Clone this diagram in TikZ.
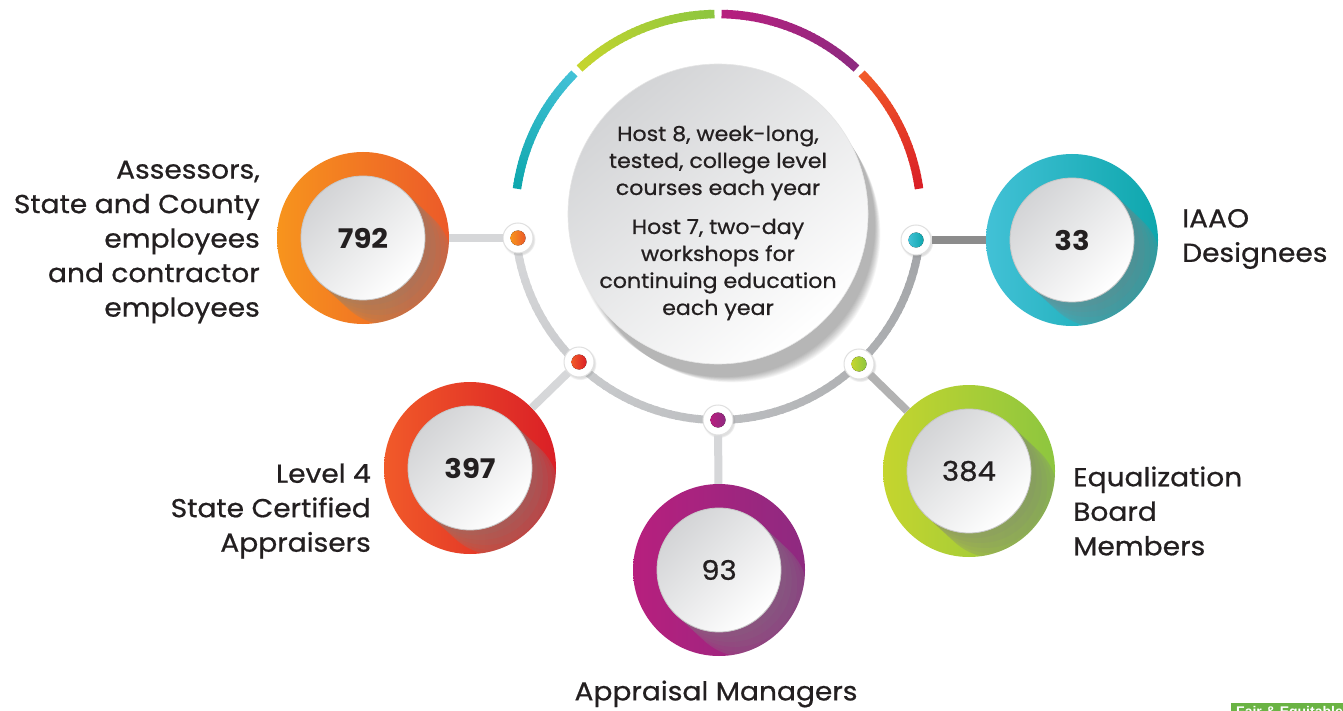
\documentclass[tikz,border=0pt]{standalone}
\usepackage{fontspec}
\setmainfont{Poppins}[FakeStretch=1.08, FakeBold=0.7, BoldFeatures={FakeBold=0}]
\newfontfamily\badgefont{Liberation Sans}
\usetikzlibrary{calc,shadows}
\definecolor{ringlight}{HTML}{D6D7D9}
\definecolor{ringdark}{HTML}{A2A4A7}
\definecolor{txt}{HTML}{231F20}
\definecolor{orA}{HTML}{F7941D}\definecolor{orB}{HTML}{EC5A29}
\definecolor{reA}{HTML}{F15A29}\definecolor{reB}{HTML}{DA1F26}
\definecolor{maA}{HTML}{B71F7E}\definecolor{maB}{HTML}{8E2A80}
\definecolor{grA}{HTML}{C5D52E}\definecolor{grB}{HTML}{8DC63F}
\definecolor{cyA}{HTML}{42C1D6}\definecolor{cyB}{HTML}{0EA7AD}
\definecolor{innergray}{HTML}{D3D4D6}
\definecolor{fairgreen}{HTML}{6AB344}
\newcommand\gradarc[6]{%
  \foreach \i in {0,...,29}{%
    \pgfmathsetmacro\sa{#3+(#4-#3)*\i/30}%
    \pgfmathsetmacro\ea{#3+(#4-#3)*min(\i+1.3,30)/30}%
    \pgfmathtruncatemacro\m{100-\i*100/29}%
    \draw[line width=8.5pt,color=#5!\m!#6] (#1) ++(-\sa:#2) arc[start angle=-\sa, end angle=-\ea, radius=#2];
  }}
\newcommand\bigcircle[6]{% name, x, y, colA, colB, number text
  \node[circle, inner sep=0pt, minimum size=172pt, left color=#4, right color=#5] (#1) at (#2,#3) {};
  \begin{scope}
    \clip (#1.center) circle[radius=86pt];
    \draw[line width=124pt, line cap=round, draw=black!50, draw opacity=0.28] (#1.center) -- ++(27,25);
    \foreach \f in {0.8,0.6,0.4,0.2}{%
      \draw[line width=124pt, line cap=round, draw=black!50, draw opacity=0.1] (#1.center) -- ++(27*\f,25*\f);}
  \end{scope}
  \node[numdisc] (#1n) at (#1.center) {#6};
}
\tikzset{
  numdisc/.style={circle, inner sep=0pt, minimum size=124pt, top color=innergray, bottom color=white, shading angle=45, draw=black!22, line width=0.8pt, text=txt, font=\fontsize{27}{30}\selectfont},
  dotnode/.style={circle, inner sep=0pt, minimum size=30pt, fill=white, draw=black!12, line width=1pt, circular drop shadow={shadow xshift=1pt, shadow yshift=-1.5pt, opacity=0.25}},
  conn/.style={line width=8pt},
  lbl/.style={text=txt, font=\fontsize{26}{34.5}\selectfont, inner sep=0pt},
}
\begin{document}
\begin{tikzpicture}[x=1pt,y=-1pt]
\useasboundingbox[fill=white] (0,0) rectangle (1343,711);
\coordinate (O) at (718,217);
% gray ring (lower part)
\foreach \a in {186,188,...,352}{%
  \pgfmathtruncatemacro\m{(\a-186)/1.68}%
  \draw[line width=8pt,color=ringdark!\m!ringlight] (O) ++(-\a:203) arc[start angle=-\a, end angle=-\a-2.6, radius=203];
}
% coloured upper arcs
\gradarc{O}{203}{172}{135}{cyB}{cyA}
\gradarc{O}{203}{133}{91}{grA}{grB}
\gradarc{O}{203}{89}{47}{maA}{maB}
\gradarc{O}{203}{45}{8}{reA}{reB}
% hub shadow
\foreach \k in {0,...,9}{%
  \fill[black, opacity=0.03] (721,220) ++(3+\k*0.9,6+\k*0.9) circle[radius=151pt-\k*0.3pt];
}
\node[circle, inner sep=0pt, minimum size=300pt, top color=innergray, bottom color=white, shading angle=40, draw=black!10, line width=0.6pt] (hub) at (718,214) {};
\node[text=txt, align=center, font=\fontsize{20.5}{27}\selectfont, inner sep=0pt] (hubtext) at (718,223)
  {Host 8, week-long,\\tested, college level\\courses each year\\[12pt]Host 7, two-day\\workshops for\\continuing education\\each year};
% outer circles
\bigcircle{cO}{363}{238}{orA}{orB}{\textbf{792}}
\bigcircle{cR}{470}{468}{reA}{reB}{\textbf{397}}
\bigcircle{cM}{719}{570}{maA}{maB}{93}
\bigcircle{cG}{969}{471}{grA}{grB}{384}
\bigcircle{cC}{1072}{240}{cyA}{cyB}{\textbf{33}}
% dots
\node[dotnode] (dO) at (518,238) {};
\node[dotnode] (dC) at (916,240) {};
\node[dotnode] (dR) at (579,362) {};
\node[dotnode] (dM) at (718,420) {};
\node[dotnode] (dG) at (859,364) {};
\fill[left color=orA, right color=orB] (dO.center) circle[radius=7.5pt];
\fill[left color=cyA, right color=cyB] (dC.center) circle[radius=7.5pt];
\fill[left color=reA, right color=reB] (dR.center) circle[radius=7.5pt];
\fill[left color=maA, right color=maB] (dM.center) circle[radius=7.5pt];
\fill[left color=grA, right color=grB] (dG.center) circle[radius=7.5pt];
% connectors
\draw[conn, color=ringlight] (dO) -- (cO);
\draw[conn, color=ringlight] (dR) -- (cR);
\draw[conn, color=ringlight] (dM) -- (cM);
\draw[conn, color=black!30] (dG) -- (cG);
\draw[conn, color=black!45] (dC) -- (cC);
% labels
\node[lbl, align=right, anchor=east] (lO) at (260,242) {Assessors,\\State and County\\employees\\and contractor\\employees};
\node[lbl, align=right, anchor=east] (lR) at (371,511) {Level 4\\State Certified\\Appraisers};
\node[lbl, anchor=center] (lM) at (716,694) {Appraisal Managers};
\node[lbl, align=left, anchor=west] (lG) at (1073,511) {Equalization\\Board\\Members};
\node[lbl, align=left, anchor=west] (lC) at (1182,239) {IAAO\\Designees};
% cut-off badge
\begin{scope}
  \clip (0,0) rectangle (1343,711);
  \node[fill=fairgreen, text=white, anchor=north west, inner xsep=5pt, inner ysep=3pt, font=\badgefont\bfseries\fontsize{14}{16}\selectfont] (fair) at (1231,703) {Fair \& Equitable};
\end{scope}
\end{tikzpicture}
\end{document}
